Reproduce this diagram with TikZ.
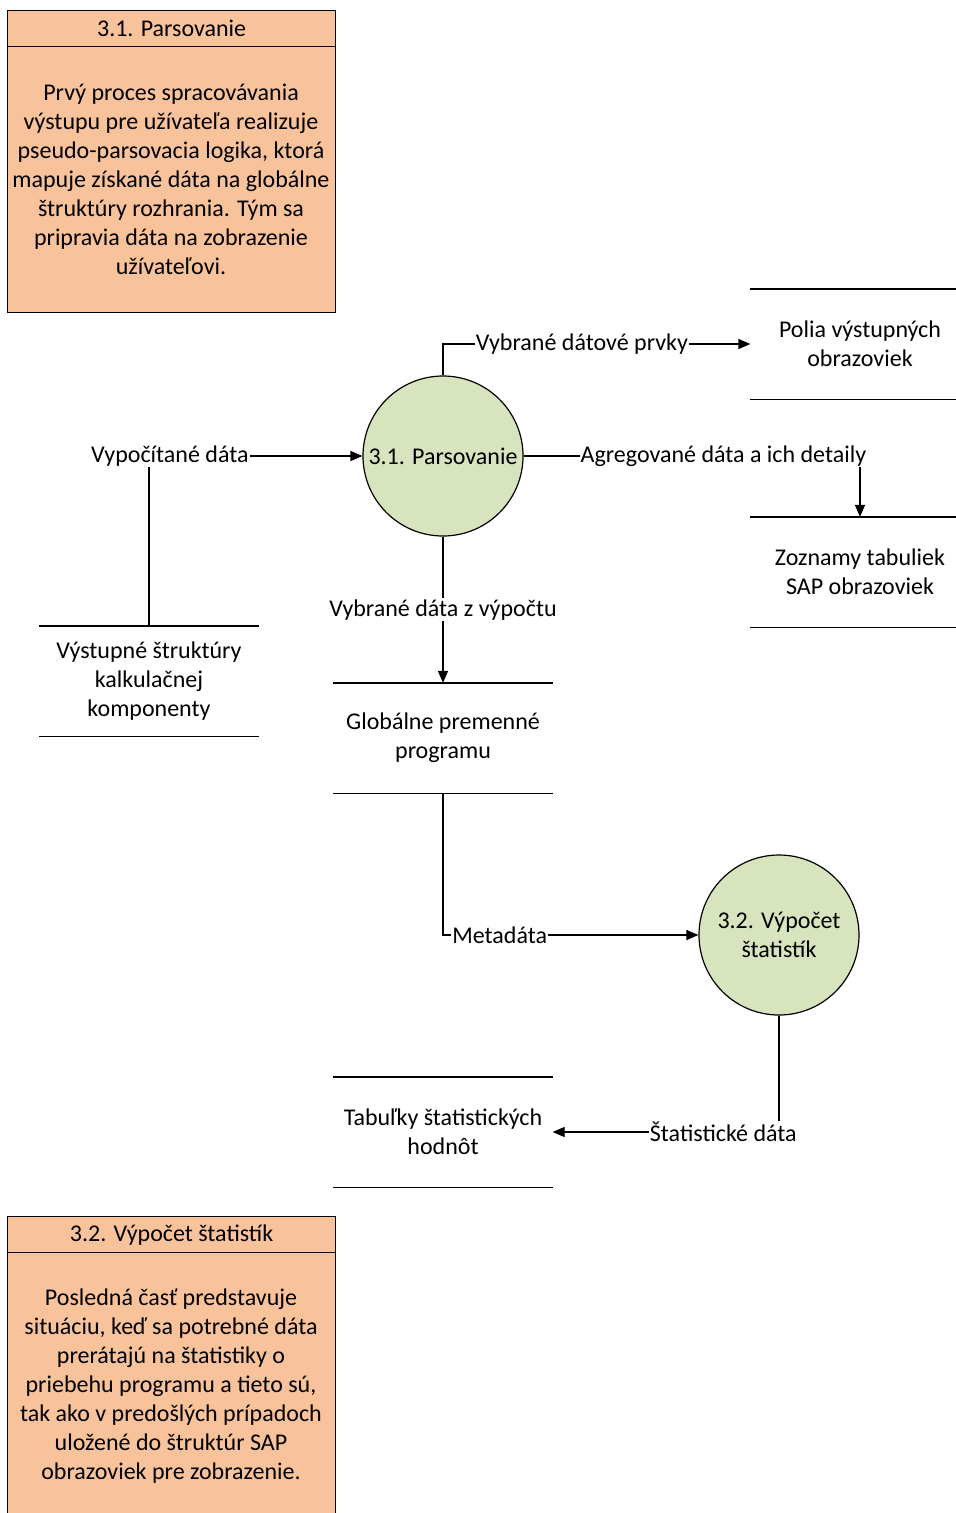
\documentclass[tikz,border=0pt]{standalone}
\usepackage{fontspec}
\setmainfont{Carlito}
\usetikzlibrary{positioning, arrows.meta}
\definecolor{popisfarba}{HTML}{F8C39B}
\definecolor{procesfarba}{HTML}{D7E4BD}

\begin{document}
\begin{tikzpicture}[x=1pt, y=-1pt, line width=1.2pt, font=\fontsize{24}{29}\selectfont,
	proces/.style={circle, draw, fill=procesfarba, minimum size=160pt, inner sep=1pt, align=center},
	sklad/.style={minimum width=218pt, minimum height=109pt, align=center},
	tok/.style={fill=white, inner sep=1pt},
	sipka/.style={-{Triangle[length=12pt, width=10pt]}},
	popis/.style={rectangle, draw, fill=popisfarba, minimum width=328pt, anchor=north west}]
	\useasboundingbox (0,0) rectangle (956,1513);

	% poznamky
	\node[popis, minimum height=302pt] (pozn1) at (7,10) {};
	\node[popis, minimum height=36pt] (pozn1h) at (7,10) {3.1. Parsovanie};
	\node[align=center] (pozn1t) at (171,179) {Prvý proces spracovávania\\výstupu pre užívateľa realizuje\\pseudo-parsovacia logika, ktorá\\mapuje získané dáta na globálne\\štruktúry rozhrania. Tým sa\\pripravia dáta na zobrazenie\\užívateľovi.};

	\node[popis, minimum height=320pt] (pozn2) at (7,1216) {};
	\node[popis, minimum height=36pt] (pozn2h) at (7,1216) {3.2. Výpočet štatistík};
	\node[align=center] (pozn2t) at (171,1386) {Posledná časť predstavuje\\situáciu, keď sa potrebné dáta\\prerátajú na štatistiky o\\priebehu programu a tieto sú,\\tak ako v predošlých prípadoch\\uložené do štruktúr SAP\\obrazoviek pre zobrazenie.};

	% procesy
	\node[proces] (pars) at (443,456) {3.1. Parsovanie};
	\node[proces] (stat) at (779,935) {3.2. Výpočet\\štatistík};

	% sklady dat
	\node[sklad] (polia) at (860,344) {Polia výstupných\\obrazoviek};
	\node[sklad] (zoznam) at (860,572) {Zoznamy tabuliek\\SAP obrazoviek};
	\node[sklad] (vystup) at (149,681) {Výstupné štruktúry\\kalkulačnej\\komponenty};
	\node[sklad] (glob) at (443,738) {Globálne premenné\\programu};
	\node[sklad] (tab) at (443,1132) {Tabuľky štatistických\\hodnôt};

	\foreach \s in {polia, zoznam, vystup, glob, tab} {
		\draw (\s.north west) -- (\s.north east);
		\draw (\s.south west) -- (\s.south east);
	}

	% toky
	\draw[sipka] (vystup.north) |- node[tok, pos=0.549] {Vypočítané dáta} (pars.west);
	\draw[sipka] (pars.north) |- node[tok, pos=0.726] {Vybrané dátové prvky} (polia.west);
	\draw[sipka] (pars.east) -| node[tok, pos=0.297] {Agregované dáta a ich detaily} (zoznam.north);
	\draw[sipka] (pars.south) -- node[tok] {Vybrané dáta z výpočtu} (glob.north);
	\draw[sipka] (glob.south) |- node[tok, pos=0.611] {Metadáta} (stat.west);
	\draw[sipka] (stat.south) |- node[tok, pos=0.623] {Štatistické dáta} (tab.east);
\end{tikzpicture}
\end{document}
